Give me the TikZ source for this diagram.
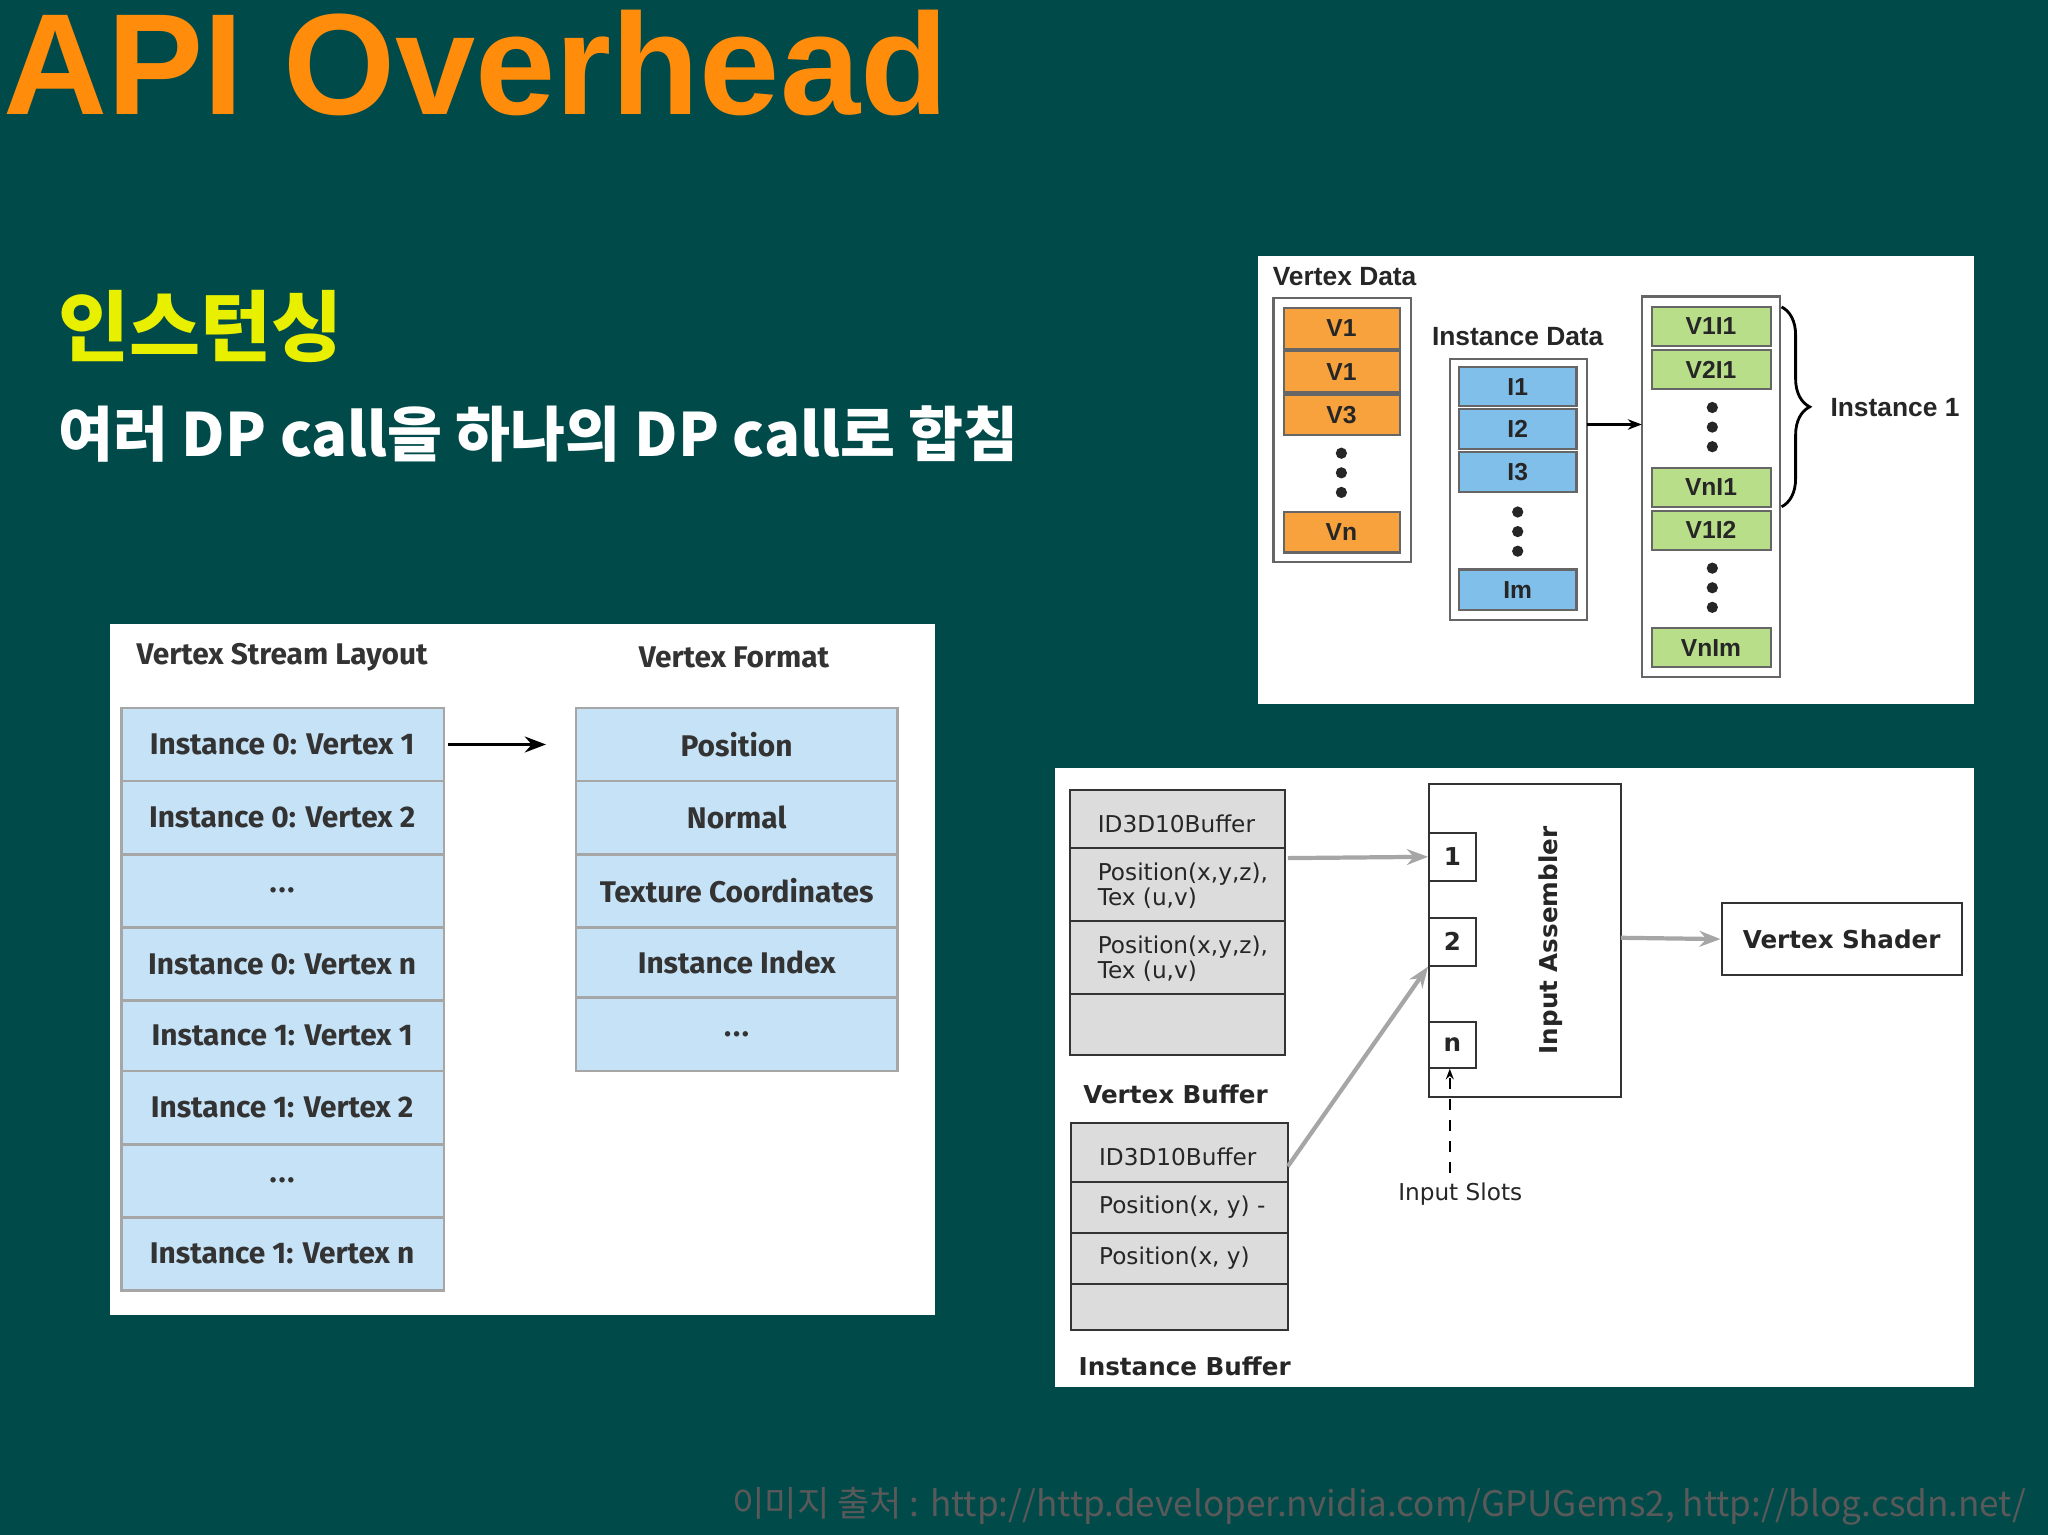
\documentclass[tikz,border=0pt]{standalone}
\usepackage{fontspec}
\setmainfont{DejaVu Sans}
\newfontfamily\titlef{Liberation Sans}
\newfontfamily\kor{Noto Sans CJK KR}
\newfontfamily\fira{Fira Sans}
\usetikzlibrary{decorations.pathreplacing,arrows.meta}
\definecolor{bg}{HTML}{004A4A}
\definecolor{ttl}{HTML}{FF8C0A}
\definecolor{ylw}{HTML}{E8F000}
\definecolor{lb}{HTML}{C6E2F6}
\definecolor{org}{HTML}{F7A23C}
\definecolor{blu}{HTML}{7FBFEA}
\definecolor{grn}{HTML}{B8DE8A}
\definecolor{gry}{HTML}{DCDCDC}
\newcommand\mydots{.\kern0.5pt.\kern0.5pt.}
\tikzset{
 cellL/.style={draw=gray!70,fill=lb,line width=0.8pt},
 txtL/.style={font=\fira\fontsize{8.5}{9}\selectfont\bfseries,text=black!80},
 cellT/.style={draw=black!60,line width=0.6pt},
 txtT/.style={font=\titlef\fontsize{7}{8}\selectfont\bfseries,text=black!85},
 cellB/.style={draw=black!80,fill=gry,line width=0.5pt},
 txtB/.style={font=\fontsize{6.6}{7.2}\selectfont,text=black!85,align=left},
 garrow/.style={draw=gray!70,line width=1.2pt,-{Stealth[length=6pt]}},
 vdot/.style={fill=black!85,circle,inner sep=0pt,minimum size=3.2pt},
}
\begin{document}
\begin{tikzpicture}[x=0.01306cm,y=-0.01306cm]
\fill[bg] (0,0) rectangle (1568,1175);
\useasboundingbox (0,0) rectangle (1568,1175);
\node[anchor=west,font=\titlef\fontsize{41}{44}\selectfont\bfseries,text=ttl,inner sep=0pt] (title) at (2,48) {API Overhead};
\node[anchor=west,font=\kor\fontsize{22}{26}\selectfont\bfseries,text=ylw,inner sep=0pt] (k1) at (44,250) {인스턴싱};
\node[anchor=west,font=\kor\fontsize{17}{20}\selectfont\bfseries,text=white,inner sep=0pt] (k2) at (44,332) {여러 DP call을 하나의 DP call로 합침};
% left panel
\fill[white] (84,478) rectangle (716,1007);
\node[txtL] (h1) at (216,503) {Vertex Stream Layout};
\node[txtL] (h2) at (562,503) {Vertex Format};
\foreach \a/\b/\t [count=\i] in {542/598/Instance 0: Vertex 1,598/654/Instance 0: Vertex 2,654/710/\mydots,710/766/Instance 0: Vertex n,766/820/Instance 1: Vertex 1,820/876/Instance 1: Vertex 2,876/932/\mydots,932/988/Instance 1: Vertex n}{
 \draw[cellL] (93,\a) rectangle (340,\b);
 \node[txtL] (l\i) at (216,{(\a+\b)/2}) {\t};}
\foreach \a/\b/\t [count=\i] in {542/598/Position,598/654/Normal,654/710/Texture Coordinates,710/764/Instance Index,764/820/\mydots}{
 \draw[cellL] (441,\a) rectangle (687,\b);
 \node[txtL] (r\i) at (564,{(\a+\b)/2}) {\t};}
\coordinate (la) at (343,570); \coordinate (lb) at (418,570);
\draw[line width=1pt,-{Stealth[length=6pt]}] (la) -- (lb);
% top right panel
\fill[white] (963,196) rectangle (1511,539);
\node[txtT,anchor=west,font=\titlef\fontsize{7.5}{8}\selectfont\bfseries] (vd) at (965,212) {Vertex Data};
\node[txtT,font=\titlef\fontsize{7.5}{8}\selectfont\bfseries] (id) at (1162,258) {Instance Data};
\draw[cellT,fill=white] (975,228) rectangle (1080,430);
\draw[cellT,fill=white] (1110,275) rectangle (1215,475);
\draw[cellT,fill=white] (1257,227) rectangle (1363,518);
\foreach \a/\b/\t [count=\i] in {236/267/V1,269/300/V1,302/333/V3,392/423/Vn}{
 \draw[cellT,fill=org] (983,\a) rectangle (1072,\b);
 \node[txtT] (o\i) at (1027,{(\a+\b)/2}) {\t};}
\foreach \a/\b/\t [count=\i] in {281/311/I1,313/344/I2,346/377/I3,436/467/Im}{
 \draw[cellT,fill=blu] (1117,\a) rectangle (1207,\b);
 \node[txtT] (b\i) at (1162,{(\a+\b)/2}) {\t};}
\foreach \a/\b/\t [count=\i] in {235/265/V1I1,268/298/V2I1,358/388/VnI1,391/421/V1I2,481/511/VnIm}{
 \draw[cellT,fill=grn] (1265,\a) rectangle (1356,\b);
 \node[txtT] (g\i) at (1310,{(\a+\b)/2}) {\t};}
\foreach \x/\y in {1027/362,1162/407,1311/327,1311/450}{
 \node[vdot] at (\x,\y-15) {}; \node[vdot] at (\x,\y) {}; \node[vdot] at (\x,\y+15) {};}
\coordinate (ta) at (1215,325); \coordinate (tb) at (1257,325);
\draw[line width=0.6pt,-{Stealth[length=4pt]}] (ta) -- (tb);
\draw[line width=0.8pt,decorate,decoration={brace,amplitude=8pt}] (1364,235) -- (1364,388);
\node[txtT,anchor=west,font=\titlef\fontsize{7.5}{8}\selectfont\bfseries] (i1) at (1392,312) {Instance 1};
% bottom right panel
\fill[white] (808,588) rectangle (1511,1062);
\draw[cellB] (819,605) rectangle (984,649); \node[txtB,anchor=west] (v1) at (831,631) {ID3D10Buffer};
\draw[cellB] (819,649) rectangle (984,705); \node[txtB,anchor=west] (v2) at (831,678) {Position(x,y,z),\\Tex (u,v)};
\draw[cellB] (819,705) rectangle (984,761); \node[txtB,anchor=west] (v3) at (831,734) {Position(x,y,z),\\Tex (u,v)};
\draw[cellB] (819,761) rectangle (984,808);
\node[txtB,font=\fontsize{7}{8}\selectfont\bfseries] (vb) at (900,838) {Vertex Buffer};
\draw[cellB] (820,860) rectangle (986,905); \node[txtB,anchor=west] (n1) at (832,886) {ID3D10Buffer};
\draw[cellB] (820,905) rectangle (986,944); \node[txtB,anchor=west] (n2) at (832,924) {Position(x, y) -};
\draw[cellB] (820,944) rectangle (986,983); \node[txtB,anchor=west] (n3) at (832,963) {Position(x, y)};
\draw[cellB] (820,983) rectangle (986,1018);
\node[txtB,font=\fontsize{7}{8}\selectfont\bfseries] (ib) at (907,1046) {Instance Buffer};
\draw[draw=black!80,line width=0.6pt] (1094,600) rectangle (1241,840);
\node[draw=black!80,line width=0.5pt,minimum width=0.47cm,minimum height=0.48cm,txtB,font=\fontsize{7}{8}\selectfont\bfseries] (s1) at (1112,656) {1};
\node[draw=black!80,line width=0.5pt,minimum width=0.47cm,minimum height=0.48cm,txtB,font=\fontsize{7}{8}\selectfont\bfseries] (s2) at (1112,721) {2};
\node[draw=black!80,line width=0.5pt,minimum width=0.47cm,minimum height=0.46cm,txtB,font=\fontsize{7}{8}\selectfont\bfseries] (sn) at (1112,800) {n};
\node[rotate=90,txtB,font=\fontsize{7}{8}\selectfont\bfseries] (ia) at (1187,720) {Input Assembler};
\node[draw=black!80,line width=0.6pt,minimum width=2.4cm,minimum height=0.72cm,txtB,font=\fontsize{7}{8}\selectfont\bfseries] (vs) at (1410,719) {Vertex Shader};
\coordinate (va) at (986,657); \coordinate (na) at (986,893);
\draw[garrow] (va) -- (s1.west);
\draw[garrow] (na) -- (s2.south west);
\coordinate (iaR) at (1241,718);
\draw[garrow] (iaR) -- (vs.west);
\node[txtB] (isl) at (1118,914) {Input Slots};
\coordinate (dsa) at (1110,898);
\draw[dashed,line width=0.5pt,-{Stealth[length=3pt]}] (dsa) -- (sn.south -| dsa);
% footer
\node[anchor=east,font=\kor\fontsize{10}{11}\selectfont,text=black!65,inner sep=0pt] (ft) at (1552,1153) {이미지 출처 : http://http.developer.nvidia.com/GPUGems2, http://blog.csdn.net/};
\end{tikzpicture}
\end{document}
